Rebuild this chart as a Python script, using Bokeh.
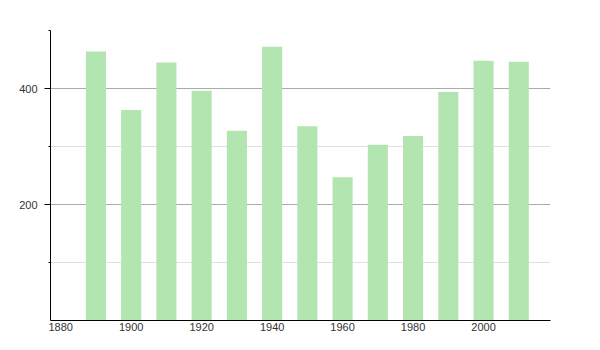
from bokeh.plotting import figure
from bokeh.models import FixedTicker, Range1d, ColumnDataSource
from bokeh.embed import file_html
from bokeh.resources import INLINE

years = [1890, 1900, 1910, 1920, 1930, 1940, 1950, 1960, 1970, 1980, 1990, 2000, 2010]
population = [464, 363, 445, 396, 327, 472, 335, 247, 303, 318, 394, 448, 446]
x_tick_labels = [1880, 1900, 1920, 1940, 1960, 1980, 2000]
y_major_ticks = [200, 400]
y_minor_ticks = [100, 300, 500]

src = ColumnDataSource(dict(x=years, top=population))

p = figure(width=600, height=350, output_backend="svg", toolbar_location=None,
           x_range=Range1d(1877.1, 2019.0), y_range=Range1d(0, 500),
           min_border_left=50, min_border_right=50, min_border_top=30, min_border_bottom=30)
p.outline_line_color = None
p.background_fill_color = "white"
p.border_fill_color = "white"

p.vbar(x="x", top="top", width=5.7, bottom=0, source=src,
       fill_color="#b3e5b0", line_color=None)

p.xaxis.ticker = FixedTicker(ticks=x_tick_labels)
p.yaxis.ticker = FixedTicker(ticks=y_major_ticks, minor_ticks=y_minor_ticks)

p.xgrid.grid_line_color = None
p.ygrid.grid_line_color = "#aaaaaa"
p.ygrid.minor_grid_line_color = "#e0e0e0"
p.ygrid.level = "underlay"

for ax in (p.xaxis[0], p.yaxis[0]):
    ax.axis_line_color = "black"
    ax.axis_line_width = 1
    ax.major_label_text_font = "Liberation Sans"
    ax.major_label_text_font_size = "11px"
    ax.major_label_text_color = "#333333"

p.xaxis.major_tick_out = 0
p.xaxis.major_tick_in = 0
p.xaxis.minor_tick_out = 0
p.xaxis.minor_tick_in = 0
p.xaxis.major_label_standoff = 2

p.yaxis.major_tick_out = 6
p.yaxis.major_tick_in = 0
p.yaxis.minor_tick_out = 2
p.yaxis.minor_tick_in = 0
p.yaxis.major_tick_line_color = "black"
p.yaxis.minor_tick_line_color = "black"
p.yaxis.major_label_standoff = 7

open("out.html", "w").write(file_html(p, INLINE))
